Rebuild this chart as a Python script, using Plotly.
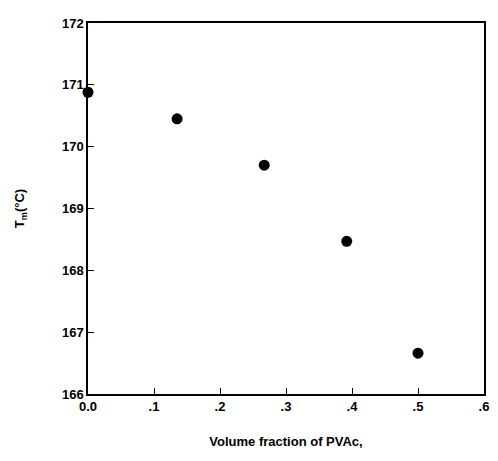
import plotly.graph_objects as go

vol_fraction = [0.0, 0.135, 0.267, 0.392, 0.50]
tm_values = [170.88, 170.45, 169.70, 168.47, 166.66]

x_tick_vals = [0.0, 0.1, 0.2, 0.3, 0.4, 0.5, 0.6]
x_tick_text = ["0.0", ".1", ".2", ".3", ".4", ".5", ".6"]
y_tick_vals = [166, 167, 168, 169, 170, 171, 172]
y_tick_text = ["166", "167", "168", "169", "170", "171", "172"]

fig = go.Figure()
fig.add_trace(go.Scatter(
    x=vol_fraction, y=tm_values, mode="markers",
    marker=dict(color="black", size=11),
    cliponaxis=False, showlegend=False,
))

tickfont = dict(family="Liberation Sans, Arial, sans-serif", size=13, color="black", weight=700)
titlefont = dict(family="Liberation Sans, Arial, sans-serif", size=13, color="black", weight=700)

fig.update_layout(
    width=490, height=453,
    margin=dict(l=80, r=14, t=8, b=67),
    paper_bgcolor="white", plot_bgcolor="white",
    xaxis=dict(
        range=[0, 0.6], tickvals=x_tick_vals, ticktext=x_tick_text,
        ticks="inside", ticklen=6, tickwidth=1.2, tickcolor="black",
        showline=True, linecolor="black", linewidth=1.5, mirror=True,
        showgrid=False, zeroline=False, tickfont=tickfont,
        title=dict(text="Volume fraction of PVAc,", standoff=24, font=titlefont),
    ),
    yaxis=dict(
        range=[166, 172], tickvals=y_tick_vals, ticktext=y_tick_text,
        ticks="inside", ticklen=6, tickwidth=1.2, tickcolor="black",
        showline=True, linecolor="black", linewidth=1.5, mirror=True,
        showgrid=False, zeroline=False, tickfont=tickfont,
        title=dict(text="T<sub>m</sub>(°C)", standoff=34, font=titlefont),
    ),
)

fig.write_html("out.html")
